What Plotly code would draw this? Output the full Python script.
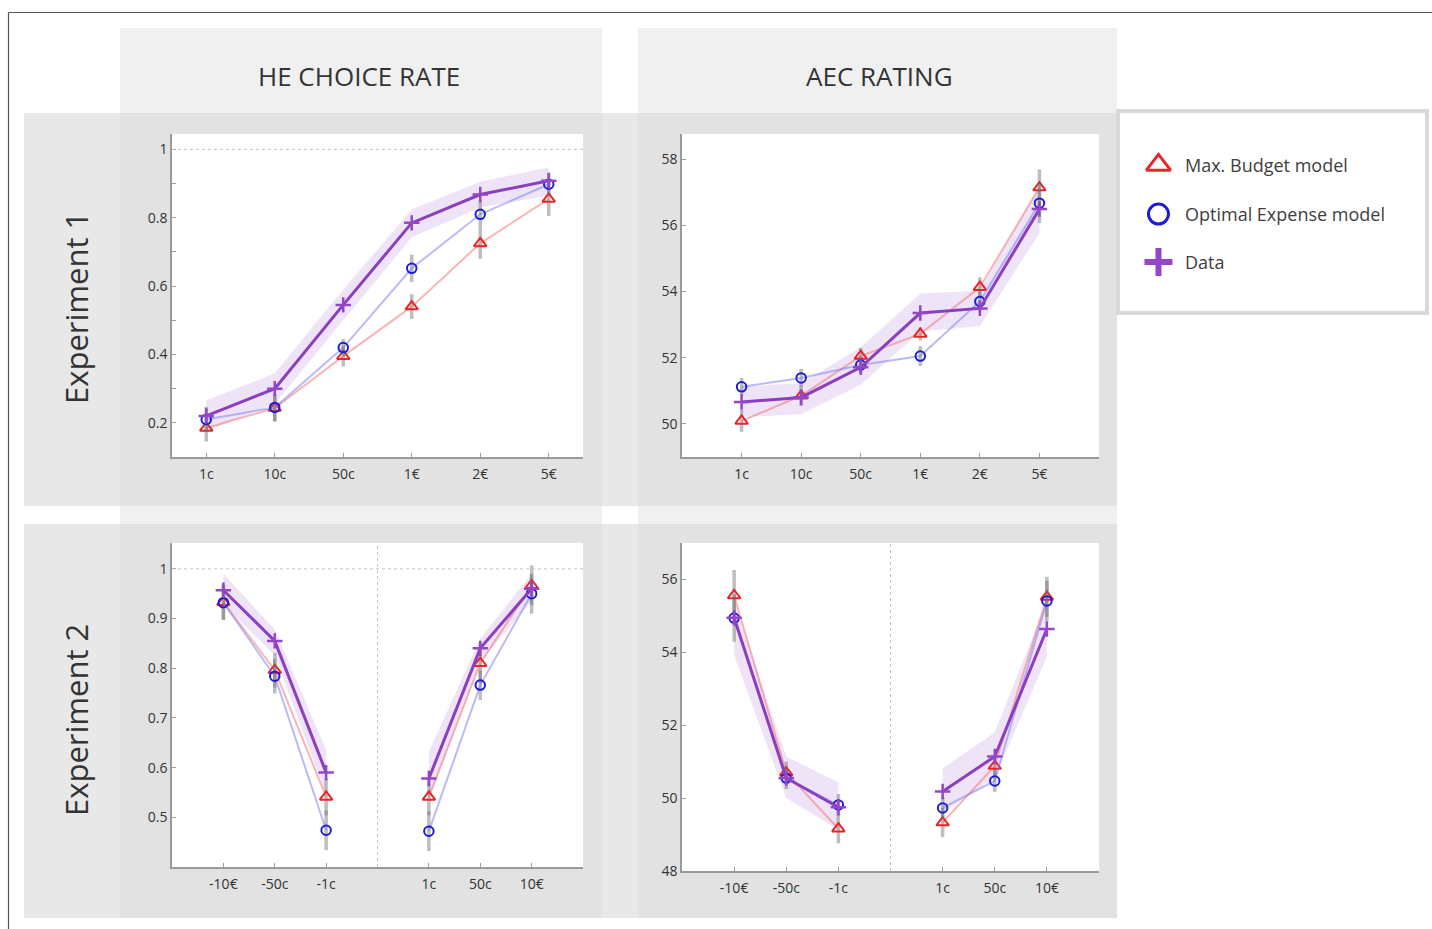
import plotly.graph_objects as go

W = 1432          # page width
H_REF = 929       # reference pixel height used for positioning
H_LAYOUT = 938    # figure height (compensates the vertical compression seen in the photo)

# ---------------- data ----------------
exp1_levels = ["1c", "10c", "50c", "1€", "2€", "5€"]
exp2_levels = ["-10€", "-50c", "-1c", "1c", "50c", "10€"]

# Experiment 1 - HE choice rate
he1_data = [0.22, 0.30, 0.545, 0.785, 0.868, 0.908]
he1_data_lo = [0.175, 0.255, 0.50, 0.743, 0.83, 0.865]
he1_data_hi = [0.265, 0.345, 0.59, 0.824, 0.905, 0.948]
he1_maxbudget = [0.185, 0.243, 0.395, 0.54, 0.725, 0.855]
he1_maxbudget_err = [0.04, 0.04, 0.03, 0.036, 0.045, 0.05]
he1_optimal = [0.21, 0.245, 0.42, 0.652, 0.81, 0.898]
he1_optimal_err = [0.037, 0.04, 0.025, 0.04, 0.04, 0.035]

# Experiment 1 - AEC rating
aec1_data = [50.66, 50.8, 51.71, 53.35, 53.49, 56.49]
aec1_data_lo = [50.2, 50.3, 51.18, 52.79, 52.96, 55.76]
aec1_data_hi = [51.13, 51.23, 52.32, 53.93, 54.03, 57.2]
aec1_maxbudget = [50.09, 50.85, 52.05, 52.72, 54.13, 57.14]
aec1_maxbudget_err = [0.33, 0.3, 0.25, 0.2, 0.3, 0.55]
aec1_optimal = [51.12, 51.39, 51.78, 52.05, 53.7, 56.67]
aec1_optimal_err = [0.27, 0.27, 0.25, 0.3, 0.3, 0.6]

# Experiment 2 - HE choice rate
he2_data = [0.957, 0.855, 0.59, 0.578, 0.84, 0.96]
he2_data_lo = [0.929, 0.826, 0.545, 0.535, 0.813, 0.935]
he2_data_hi = [0.99, 0.878, 0.635, 0.632, 0.86, 0.99]
he2_maxbudget = [0.933, 0.796, 0.541, 0.541, 0.81, 0.967]
he2_maxbudget_err = [0.035, 0.035, 0.037, 0.037, 0.04, 0.04]
he2_optimal = [0.932, 0.784, 0.474, 0.472, 0.766, 0.95]
he2_optimal_err = [0.035, 0.035, 0.04, 0.04, 0.03, 0.04]

# Experiment 2 - AEC rating
aec2_data = [54.95, 50.55, 49.75, 50.18, 51.14, 54.64]
aec2_data_lo = [53.92, 50.0, 49.13, 49.6, 50.55, 53.87]
aec2_data_hi = [55.4, 51.14, 50.43, 50.82, 51.8, 55.4]
aec2_maxbudget = [55.56, 50.7, 49.16, 49.33, 50.88, 55.52]
aec2_maxbudget_err = [0.7, 0.3, 0.4, 0.4, 0.3, 0.55]
aec2_optimal = [54.94, 50.55, 49.81, 49.73, 50.47, 55.41]
aec2_optimal_err = [0.65, 0.3, 0.3, 0.3, 0.3, 0.55]

legend_labels = ["Max. Budget model", "Optimal Expense model", "Data"]
col_titles = ["HE CHOICE RATE", "AEC RATING"]
row_titles = ["Experiment 1", "Experiment 2"]

# ---------------- styles ----------------
RED = "#e8262a"
BLUE = "#1c1cd8"
PURPLE = "#9446c8"
PURPLE_LINE = "#8a3fc0"
RED_LINE = "rgba(240,110,110,0.50)"
BLUE_LINE = "rgba(120,120,240,0.50)"
BAND = "rgba(160,90,210,0.17)"
ERR = "rgba(110,110,110,0.45)"
FONT = "Open Sans"
TXT = "#333333"

fig = go.Figure()


def px_x(p):
    return p / W


def px_y(p):
    return 1 - p / H_REF


# panel pixel boxes: (left, right, top, bottom)
boxes = {
    1: (172, 583, 134, 457),
    2: (682, 1099, 134, 457),
    3: (172, 583, 543, 867),
    4: (682, 1099, 543, 871),
}

exp1_pos = list(range(len(exp1_levels)))
exp2_pos = [i if i < 3 else i + 1 for i in range(len(exp2_levels))]


def add_panel(n, pos, segments, data, lo, hi, mb, mb_err, op, op_err):
    xa = "x" if n == 1 else f"x{n}"
    ya = "y" if n == 1 else f"y{n}"
    for seg in segments:
        xs = [pos[i] for i in seg]
        fig.add_trace(go.Scatter(x=xs, y=[hi[i] for i in seg], mode="lines",
                                 line=dict(width=0, color=BAND), hoverinfo="skip",
                                 showlegend=False, xaxis=xa, yaxis=ya))
        fig.add_trace(go.Scatter(x=xs, y=[lo[i] for i in seg], mode="lines",
                                 line=dict(width=0, color=BAND), fill="tonexty",
                                 fillcolor=BAND, hoverinfo="skip",
                                 showlegend=False, xaxis=xa, yaxis=ya))
        fig.add_trace(go.Scatter(
            x=xs, y=[mb[i] for i in seg], mode="lines+markers",
            line=dict(color=RED_LINE, width=2),
            marker=dict(symbol="triangle-up-open", size=11, color=RED,
                        line=dict(width=2, color=RED)),
            error_y=dict(type="data", array=[mb_err[i] for i in seg],
                         color=ERR, thickness=3.5, width=0),
            showlegend=False, xaxis=xa, yaxis=ya))
        fig.add_trace(go.Scatter(
            x=xs, y=[op[i] for i in seg], mode="lines+markers",
            line=dict(color=BLUE_LINE, width=2),
            marker=dict(symbol="circle-open", size=9.5, color=BLUE,
                        line=dict(width=2, color=BLUE)),
            error_y=dict(type="data", array=[op_err[i] for i in seg],
                         color=ERR, thickness=3.5, width=0),
            showlegend=False, xaxis=xa, yaxis=ya))
        fig.add_trace(go.Scatter(
            x=xs, y=[data[i] for i in seg], mode="lines+markers",
            line=dict(color=PURPLE_LINE, width=3),
            marker=dict(symbol="cross-thin-open", size=11, color=PURPLE,
                        line=dict(width=2.5, color=PURPLE)),
            showlegend=False, xaxis=xa, yaxis=ya))


all_idx = [list(range(6))]
split_idx = [[0, 1, 2], [3, 4, 5]]

add_panel(1, exp1_pos, all_idx, he1_data, he1_data_lo, he1_data_hi,
          he1_maxbudget, he1_maxbudget_err, he1_optimal, he1_optimal_err)
add_panel(2, exp1_pos, all_idx, aec1_data, aec1_data_lo, aec1_data_hi,
          aec1_maxbudget, aec1_maxbudget_err, aec1_optimal, aec1_optimal_err)
add_panel(3, exp2_pos, split_idx, he2_data, he2_data_lo, he2_data_hi,
          he2_maxbudget, he2_maxbudget_err, he2_optimal, he2_optimal_err)
add_panel(4, exp2_pos, split_idx, aec2_data, aec2_data_lo, aec2_data_hi,
          aec2_maxbudget, aec2_maxbudget_err, aec2_optimal, aec2_optimal_err)

# ---------------- axes ----------------
axis_common = dict(showgrid=False, zeroline=False, showline=True,
                   linecolor="#9a9a9a", linewidth=1.5, ticks="inside",
                   ticklen=4, tickcolor="#9a9a9a", tickwidth=1.2,
                   tickfont=dict(family=FONT, size=14, color=TXT),
                   mirror=False, fixedrange=True)

xranges = {1: [-0.5, 5.5], 2: [-1, 6], 3: [-1, 7], 4: [-1, 7]}
yranges = {1: [0.1, 1.045], 2: [49, 58.76], 3: [0.4, 1.052], 4: [48, 57]}
ytickvals = {1: [0.2, 0.4, 0.6, 0.8, 1.0], 2: [50, 52, 54, 56, 58],
             3: [0.5, 0.6, 0.7, 0.8, 0.9, 1.0], 4: [48, 50, 52, 54, 56]}
yticktext = {1: ["0.2", "0.4", "0.6", "0.8", "1"], 2: ["50", "52", "54", "56", "58"],
             3: ["0.5", "0.6", "0.7", "0.8", "0.9", "1"], 4: ["48", "50", "52", "54", "56"]}

layout_axes = {}
for n in range(1, 5):
    l, r, t, b = boxes[n]
    xk = "xaxis" if n == 1 else f"xaxis{n}"
    yk = "yaxis" if n == 1 else f"yaxis{n}"
    pos = exp1_pos if n in (1, 2) else exp2_pos
    labels = exp1_levels if n in (1, 2) else exp2_levels
    ya = "y" if n == 1 else f"y{n}"
    xa = "x" if n == 1 else f"x{n}"
    layout_axes[xk] = dict(axis_common, domain=[px_x(l), px_x(r)], range=xranges[n],
                           tickvals=pos, ticktext=labels, anchor=ya,
                           ticklabelstandoff=3)
    yd = dict(axis_common, domain=[px_y(b), px_y(t)], range=yranges[n],
              tickvals=ytickvals[n], ticktext=yticktext[n], anchor=xa)
    if n == 1:
        yd["minor"] = dict(tickvals=[0.3, 0.5, 0.7, 0.9], ticks="inside",
                           ticklen=4, tickcolor="#9a9a9a")
    layout_axes[yk] = yd

# legend axis
LG = (1118, 1427, 111, 313)
layout_axes["xaxis5"] = dict(domain=[px_x(LG[0]), px_x(LG[1])], range=[0, 1],
                             visible=False, fixedrange=True, anchor="y5")
layout_axes["yaxis5"] = dict(domain=[px_y(LG[3]), px_y(LG[2])], range=[0, 1],
                             visible=False, fixedrange=True, anchor="x5")

fig.update_layout(**layout_axes)

leg_y = [0.733, 0.49, 0.252]
leg_sym = ["triangle-up-open", "circle-open", "cross-thin-open"]
leg_col = [RED, BLUE, PURPLE]
leg_size = [21, 20, 20]
leg_w = [3, 3, 6]
for i in range(3):
    fig.add_trace(go.Scatter(x=[0.131], y=[leg_y[i]], mode="markers",
                             marker=dict(symbol=leg_sym[i], size=leg_size[i],
                                         color=leg_col[i],
                                         line=dict(width=leg_w[i], color=leg_col[i])),
                             showlegend=False, hoverinfo="skip",
                             xaxis="x5", yaxis="y5"))

# ---------------- background shapes ----------------
shapes = []
# column bands
for (x0, x1) in [(120, 602), (638, 1117)]:
    shapes.append(dict(type="rect", xref="paper", yref="paper", layer="below",
                       x0=px_x(x0), x1=px_x(x1), y0=px_y(918), y1=px_y(28),
                       fillcolor="#f0f0f0", line=dict(width=0)))
# row bands
for (y0, y1) in [(113, 506), (524, 918)]:
    shapes.append(dict(type="rect", xref="paper", yref="paper", layer="below",
                       x0=px_x(24), x1=px_x(1117), y0=px_y(y1), y1=px_y(y0),
                       fillcolor="rgba(217,217,217,0.6)", line=dict(width=0)))
# white plot areas
for n in range(1, 5):
    l, r, t, b = boxes[n]
    shapes.append(dict(type="rect", xref="paper", yref="paper", layer="below",
                       x0=px_x(l), x1=px_x(r), y0=px_y(b), y1=px_y(t),
                       fillcolor="white", line=dict(width=0)))
# legend box
shapes.append(dict(type="rect", xref="paper", yref="paper", layer="below",
                   x0=px_x(LG[0]), x1=px_x(LG[1]), y0=px_y(LG[3]), y1=px_y(LG[2]),
                   fillcolor="white", line=dict(width=4, color="#d9d9d9")))
# outer frame lines
shapes.append(dict(type="line", xref="paper", yref="paper", layer="above",
                   x0=px_x(8.5), x1=1, y0=px_y(12.5), y1=px_y(12.5),
                   line=dict(width=1.2, color="#555555")))
shapes.append(dict(type="line", xref="paper", yref="paper", layer="above",
                   x0=px_x(8.5), x1=px_x(8.5), y0=px_y(929), y1=px_y(12.5),
                   line=dict(width=1.2, color="#555555")))
# dotted reference lines at 1
for n in (1, 3):
    xa = "x" if n == 1 else f"x{n}"
    ya = "y" if n == 1 else f"y{n}"
    shapes.append(dict(type="line", xref=f"{xa} domain", yref=ya, x0=0, x1=1,
                       y0=1, y1=1, line=dict(width=1, color="#c4c4c4", dash="dot")))
# vertical divider in experiment 2
for n in (3, 4):
    xa = f"x{n}"
    ya = f"y{n}"
    shapes.append(dict(type="line", xref=xa, yref=f"{ya} domain", x0=3, x1=3,
                       y0=0, y1=1, line=dict(width=1, color="#c4c4c4", dash="dot")))

fig.update_layout(shapes=shapes)

# ---------------- annotations ----------------
ann = []
for t, cx in zip(col_titles, [359, 879]):
    ann.append(dict(text=t, x=px_x(cx), y=px_y(76), xref="paper", yref="paper",
                    showarrow=False, xanchor="center", yanchor="middle",
                    font=dict(family=FONT, size=26, color=TXT)))
for t, cy in zip(row_titles, [308, 720]):
    ann.append(dict(text=t, x=px_x(76), y=px_y(cy), xref="paper", yref="paper",
                    showarrow=False, xanchor="center", yanchor="middle",
                    textangle=-90, font=dict(family=FONT, size=31, color=TXT)))
for i, t in enumerate(legend_labels):
    ann.append(dict(text=t, x=0.21, y=leg_y[i], xref="x5", yref="y5",
                    showarrow=False, xanchor="left", yanchor="middle",
                    font=dict(family=FONT, size=18, color="#404040")))
fig.update_layout(annotations=ann)

fig.update_layout(width=W, height=H_LAYOUT, autosize=False,
                  margin=dict(l=0, r=0, t=0, b=0),
                  paper_bgcolor="white", plot_bgcolor="white",
                  showlegend=False, font=dict(family=FONT, color=TXT))

fig.write_html("out.html", config={"displayModeBar": False, "responsive": False},
               post_script="document.body.style.margin='0';document.body.style.overflow='hidden';")
